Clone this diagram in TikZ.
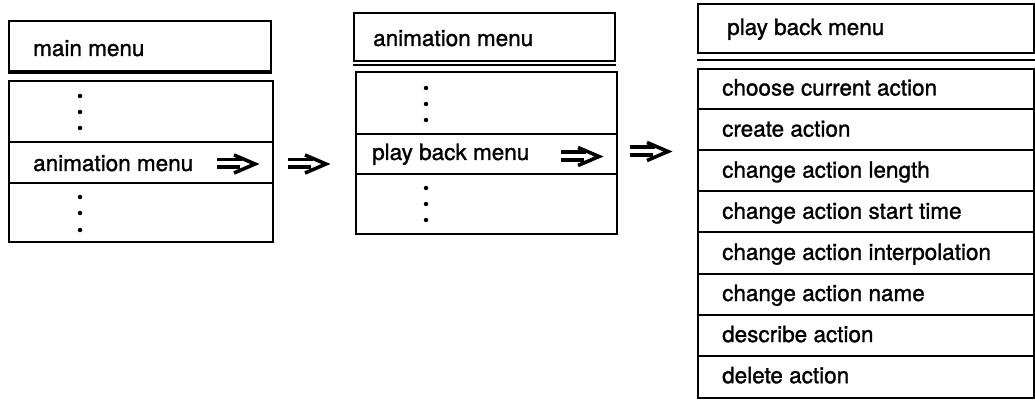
\documentclass[tikz,border=0pt]{standalone}
\usepackage{fontspec}
\setmainfont{TeX Gyre Heros}[FakeBold=1.2]
\tikzset{
  box/.style={draw, line width=2.2pt, inner sep=0pt, anchor=north west},
  lbl/.style={anchor=base west, inner sep=0pt, font=\fontsize{22.5}{27}\selectfont},
  sepline/.style={line width=2.2pt},
  divline/.style={line width=2pt},
  dotmark/.style={circle, fill, inner sep=0pt, minimum size=4.5pt},
  dblarrow/.pic={
    \draw[line width=3.6pt] (0,-3.8) -- (25,-3.8) (0,3.8) -- (23,3.8);
    \draw[line width=3.6pt, line join=miter] (17,-8.5) -- (38,0.5) -- (17,9.5);
  }
}
\begin{document}
\begin{tikzpicture}[x=1pt,y=-1pt]
\useasboundingbox (0,0) rectangle (1035,406);
% ---------- menu 1 ----------
\node[box, minimum width=262pt, minimum height=50pt] (h1) at (8,20) {};
\draw[sepline] (8,73) -- (272,73);
\node[box, minimum width=264pt, minimum height=161pt] (b1) at (8,80) {};
\draw[divline] (8,142) -- (272,142) (8,183) -- (272,183);
\node[lbl] (t1) at (33,56) {main menu};
\node[lbl] (t1a) at (33,171) {animation menu};
\foreach \yy [count=\i] in {96,112,128,197,213,230} \node[dotmark] (d1\i) at (80,\yy) {};
\pic at (217,163.5) {dblarrow};
\pic at (288,163.5) {dblarrow};
% ---------- menu 2 ----------
\node[box, minimum width=261pt, minimum height=48pt] (h2) at (353,12) {};
\draw[sepline] (353,65) -- (616,65);
\node[box, minimum width=261pt, minimum height=162pt] (b2) at (355,71) {};
\draw[divline] (355,134) -- (616,134) (355,174) -- (616,174);
\node[lbl] (t2) at (373,46) {animation menu};
\node[lbl] (t2a) at (372,160) {play back menu};
\foreach \yy [count=\i] in {88,104,120,188,204,220} \node[dotmark] (d2\i) at (426,\yy) {};
\pic at (561,156) {dblarrow};
\pic at (630,151) {dblarrow};
% ---------- menu 3 ----------
\node[box, minimum width=336pt, minimum height=49pt] (h3) at (697,3) {};
\draw[sepline] (697,60) -- (1035,60);
\node[box, minimum width=336pt, minimum height=329pt] (b3) at (697,68) {};
\foreach \k in {1,...,7} \draw[divline] (697,68+41.1*\k) -- (1033,68+41.1*\k);
\node[lbl] (t3) at (727,35) {play back menu};
\foreach \txt [count=\k from 0] in {choose current action, create action, change action length, change action start time, change action interpolation, change action name, describe action, delete action}
  \node[lbl] (r\k) at (722,68+41.1*\k+27.5) {\txt};
\end{tikzpicture}
\end{document}
